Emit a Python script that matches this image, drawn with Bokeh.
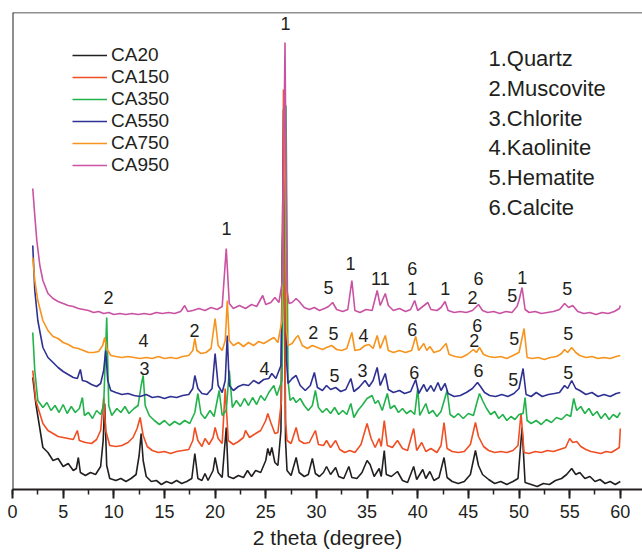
from bokeh.plotting import figure
from bokeh.models import Range1d, SingleIntervalTicker, Span, Legend, LegendItem
from bokeh.core.properties import value
from bokeh.embed import file_html
from bokeh.resources import INLINE

series_names = ["CA20", "CA150", "CA350", "CA550", "CA750", "CA950"]
series_colors = ["#231f20", "#f04e23", "#21b24b", "#2e3192", "#f7941d", "#c952a3"]

# (2theta, displayed intensity a.u., traces stacked as in the figure)
ca20 = [(2.0,112),(2.3,86),(3.0,42),(3.5,37),(4.0,29),(4.5,31),(5.0,23),(5.5,26),(6.0,19),(6.3,21),(6.5,32),(6.7,17),(7.2,14),(7.7,17),(8.2,15),(8.7,23),(8.95,49),(9.1,86),(9.3,24),(9.6,11),(10.2,9),(10.7,11),(11.2,8),(11.7,11),(12.2,15),(12.5,34),(12.7,56),(12.9,29),(13.2,13),(13.7,8),(14.2,9),(14.7,5),(15.2,8),(15.7,6),(16.2,9),(16.7,6),(17.2,8),(17.7,11),(18.0,36),(18.3,11),(18.7,9),(19.0,16),(19.3,9),(19.8,19),(20.0,32),(20.3,17),(20.7,12),(21.1,62),(21.3,13),(21.8,11),(22.3,14),(22.8,12),(23.2,19),(23.6,13),(24.0,19),(24.5,17),(25.0,29),(25.2,41),(25.4,34),(25.6,42),(25.9,27),(26.2,24),(26.5,59),(26.75,380),(26.95,49),(27.1,19),(27.5,14),(28.0,32),(28.3,17),(28.8,13),(29.2,15),(29.6,31),(29.9,16),(30.3,13),(30.7,17),(31.0,23),(31.4,15),(31.9,22),(32.2,13),(32.7,11),(33.2,23),(33.5,12),(34.0,11),(34.5,17),(35.0,29),(35.3,25),(35.7,13),(36.2,21),(36.4,13),(36.7,39),(36.9,15),(37.4,13),(38.0,18),(38.5,9),(39.0,7),(39.6,23),(39.9,10),(40.5,20),(40.8,11),(41.2,18),(41.6,9),(42.1,12),(42.6,32),(42.9,12),(43.4,8),(44.0,6),(44.6,8),(45.2,15),(45.7,39),(46.0,24),(46.4,15),(47.0,10),(47.6,6),(48.2,8),(48.8,5),(49.4,8),(49.9,11),(50.3,62),(50.6,7),(51.2,5),(51.8,3),(52.4,6),(53.0,5),(53.6,9),(54.2,11),(54.7,15),(55.2,21),(55.6,15),(56.0,17),(56.5,11),(57.0,13),(57.5,8),(58.0,10),(58.5,6),(59.0,8),(59.5,5),(60.0,8)]

ca150 = [(2.0,119),(2.3,89),(3.0,66),(3.5,59),(4.0,56),(4.5,53),(5.0,52),(5.5,51),(6.0,50),(6.4,59),(6.6,49),(7.2,47),(7.8,46),(8.3,50),(8.7,59),(9.0,92),(9.2,59),(9.6,44),(10.2,43),(10.8,44),(11.4,47),(11.9,52),(12.3,61),(12.6,72),(12.9,54),(13.3,43),(13.8,39),(14.4,37),(15.0,38),(15.6,36),(16.2,38),(16.8,39),(17.4,40),(17.8,49),(18.0,62),(18.3,49),(18.7,43),(19.0,51),(19.4,45),(19.8,52),(20.0,62),(20.3,51),(20.7,46),(21.0,101),(21.3,49),(21.8,45),(22.3,48),(22.8,52),(23.0,59),(23.4,52),(24.0,56),(24.5,59),(25.0,69),(25.2,76),(25.5,67),(25.9,56),(26.2,57),(26.55,89),(26.75,400),(26.95,69),(27.1,49),(27.5,46),(28.0,62),(28.3,49),(28.8,46),(29.3,47),(29.9,59),(30.2,45),(30.7,44),(31.0,49),(31.4,42),(31.9,49),(32.3,40),(32.8,37),(33.3,39),(33.8,37),(34.4,45),(35.0,66),(35.4,51),(35.8,42),(36.2,51),(36.4,43),(36.7,69),(37.0,44),(37.5,42),(38.0,49),(38.5,41),(39.0,39),(39.6,61),(39.9,39),(40.4,47),(40.8,38),(41.3,41),(41.9,37),(42.3,44),(42.6,67),(42.9,41),(43.4,38),(44.0,37),(44.6,38),(45.2,45),(45.7,67),(46.0,53),(46.5,43),(47.0,39),(47.6,37),(48.2,38),(48.8,37),(49.4,39),(49.9,44),(50.2,76),(50.5,37),(51.0,36),(51.6,38),(52.2,37),(52.8,39),(53.4,38),(54.0,40),(54.6,42),(55.0,51),(55.3,47),(55.7,48),(56.1,43),(56.6,40),(57.1,38),(57.6,37),(58.1,36),(58.6,38),(59.1,37),(59.6,40),(59.9,42),(60.0,61)]

ca350 = [(2.0,157),(2.2,119),(2.5,89),(3.0,82),(3.4,87),(3.8,79),(4.2,84),(4.6,77),(5.0,85),(5.4,76),(5.8,83),(6.2,77),(6.6,81),(6.9,92),(7.1,74),(7.5,77),(7.9,71),(8.3,79),(8.7,75),(9.0,84),(9.3,172),(9.5,84),(9.8,74),(10.3,81),(10.7,77),(11.1,83),(11.5,76),(12.0,81),(12.4,84),(12.7,104),(12.9,114),(13.1,84),(13.5,74),(14.0,69),(14.5,65),(15.0,69),(15.5,64),(16.0,68),(16.5,65),(17.0,69),(17.5,66),(18.0,77),(18.3,96),(18.6,76),(19.0,71),(19.5,79),(19.9,73),(20.4,99),(20.7,74),(21.1,79),(21.4,119),(21.7,82),(22.1,89),(22.5,83),(22.9,91),(23.3,84),(23.7,92),(24.1,85),(24.5,94),(24.9,89),(25.3,97),(25.8,104),(26.1,94),(26.6,109),(27.0,384),(27.2,109),(27.4,89),(27.7,92),(28.0,87),(28.4,91),(28.8,84),(29.2,79),(29.6,84),(29.9,99),(30.2,82),(30.6,77),(31.0,81),(31.4,76),(31.8,82),(32.2,75),(32.6,79),(33.0,75),(33.4,86),(33.7,72),(34.1,79),(34.5,84),(35.0,91),(35.5,94),(35.8,86),(36.1,89),(36.5,79),(37.0,96),(37.3,81),(37.7,84),(38.1,77),(38.5,81),(38.9,76),(39.3,79),(39.7,75),(40.0,101),(40.2,74),(40.8,86),(41.1,76),(41.5,79),(41.9,73),(42.3,78),(42.9,99),(43.2,75),(43.6,72),(44.0,76),(44.5,71),(45.0,76),(45.5,74),(45.9,89),(46.1,96),(46.4,89),(46.8,81),(47.2,75),(47.6,78),(48.0,71),(48.4,75),(48.8,69),(49.2,73),(49.6,70),(50.0,75),(50.4,76),(50.6,92),(50.8,69),(51.2,66),(51.7,69),(52.2,65),(52.7,70),(53.2,67),(53.7,72),(54.2,70),(54.7,75),(55.1,73),(55.4,91),(55.7,79),(56.1,83),(56.5,76),(56.9,81),(57.3,74),(57.7,78),(58.1,71),(58.5,76),(58.9,70),(59.3,75),(59.7,72),(60.0,77)]

ca550 = [(2.0,244),(2.2,199),(2.5,169),(3.0,142),(3.5,132),(4.0,127),(4.5,122),(5.0,118),(5.5,115),(6.0,112),(6.4,111),(6.7,120),(6.9,109),(7.3,108),(7.8,105),(8.3,103),(8.7,106),(9.0,119),(9.2,139),(9.4,109),(9.7,99),(10.2,97),(10.8,95),(11.4,96),(12.0,94),(12.6,93),(13.2,95),(13.8,92),(14.4,93),(15.0,91),(15.6,93),(16.2,92),(16.8,94),(17.4,95),(17.8,101),(18.0,114),(18.3,101),(18.7,96),(19.2,95),(19.7,101),(20.0,136),(20.3,104),(20.7,97),(21.0,109),(21.2,154),(21.4,104),(21.8,99),(22.3,103),(22.8,105),(23.3,104),(23.8,109),(24.3,106),(24.8,110),(25.3,111),(25.6,116),(26.0,111),(26.5,124),(26.85,385),(27.05,129),(27.2,106),(27.6,111),(28.0,114),(28.4,104),(28.9,99),(29.4,104),(29.8,117),(30.1,102),(30.6,99),(31.0,104),(31.4,100),(31.9,102),(32.4,98),(32.9,100),(33.4,111),(33.7,98),(34.2,102),(34.8,109),(35.2,103),(35.6,109),(36.0,122),(36.3,104),(36.8,116),(37.1,100),(37.6,97),(38.2,99),(38.7,96),(39.3,98),(39.8,110),(40.1,96),(40.6,105),(40.9,98),(41.3,104),(41.6,98),(42.0,107),(42.3,99),(42.7,106),(43.0,96),(43.6,93),(44.2,94),(44.8,97),(45.4,101),(45.9,107),(46.2,103),(46.6,97),(47.1,94),(47.7,93),(48.3,95),(48.9,93),(49.5,96),(50.0,101),(50.4,121),(50.7,95),(51.2,93),(51.7,97),(52.3,93),(52.9,95),(53.5,96),(54.0,97),(54.5,104),(54.8,101),(55.2,109),(55.6,101),(56.0,99),(56.6,95),(57.2,97),(57.8,93),(58.4,95),(59.0,93),(59.6,96),(60.0,97)]

ca750 = [(2.0,232),(2.2,209),(2.5,189),(3.0,169),(3.5,159),(4.0,153),(4.5,151),(5.0,147),(5.5,145),(6.0,142),(6.5,141),(7.0,139),(7.5,137),(8.0,137),(8.5,138),(8.9,144),(9.1,152),(9.3,141),(9.7,134),(10.2,133),(10.8,132),(11.4,133),(12.0,132),(12.6,131),(13.2,132),(13.8,131),(14.4,133),(15.0,131),(15.6,132),(16.2,131),(16.8,133),(17.4,134),(17.8,139),(18.0,151),(18.2,139),(18.6,136),(19.1,137),(19.6,141),(20.0,171),(20.3,144),(20.7,139),(21.0,149),(21.2,189),(21.4,149),(21.8,144),(22.3,147),(22.8,143),(23.3,147),(23.8,144),(24.3,148),(24.8,146),(25.3,149),(25.8,152),(26.2,147),(26.6,169),(26.85,395),(27.05,159),(27.2,144),(27.6,146),(28.0,152),(28.2,154),(28.6,144),(29.1,141),(29.6,144),(30.1,142),(30.6,140),(31.0,142),(31.5,144),(32.0,140),(32.5,139),(33.0,141),(33.5,157),(33.8,139),(34.3,140),(34.8,144),(35.2,145),(35.6,141),(36.0,154),(36.3,141),(36.8,154),(37.1,139),(37.6,137),(38.2,139),(38.8,137),(39.4,139),(39.8,153),(40.1,139),(40.6,146),(40.9,139),(41.2,143),(41.6,137),(42.2,139),(42.8,146),(43.1,135),(43.7,133),(44.3,132),(44.9,135),(45.5,140),(45.8,137),(46.1,142),(46.5,135),(47.0,133),(47.6,132),(48.2,133),(48.8,131),(49.4,134),(50.0,137),(50.5,161),(50.8,132),(51.3,131),(51.9,132),(52.5,130),(53.1,132),(53.7,133),(54.2,136),(54.5,140),(54.8,137),(55.2,142),(55.6,137),(56.0,134),(56.6,132),(57.2,133),(57.8,131),(58.4,132),(59.0,131),(59.6,133),(60.0,134)]

ca950 = [(2.0,301),(2.2,274),(2.4,249),(2.7,224),(3.0,209),(3.5,196),(4.0,191),(4.5,188),(5.0,186),(5.5,184),(6.0,183),(6.5,181),(7.0,180),(7.5,179),(8.0,177),(8.5,178),(9.0,176),(9.5,177),(10.0,175),(10.6,176),(11.2,175),(11.8,176),(12.4,175),(13.0,176),(13.6,175),(14.2,177),(14.8,176),(15.4,177),(16.0,176),(16.6,178),(17.0,184),(17.3,178),(17.8,179),(18.4,181),(19.0,179),(19.6,182),(20.2,180),(20.7,183),(21.1,241),(21.4,186),(21.8,181),(22.4,184),(23.0,181),(23.6,185),(24.1,183),(24.7,194),(25.0,185),(25.5,187),(25.9,192),(26.3,187),(26.65,209),(26.9,447),(27.1,199),(27.3,186),(27.6,187),(28.0,191),(28.3,188),(28.8,182),(29.3,180),(29.8,182),(30.3,179),(30.8,181),(31.2,183),(31.6,187),(32.0,180),(32.6,178),(33.1,180),(33.5,209),(33.8,179),(34.3,177),(34.9,180),(35.5,179),(36.0,199),(36.3,184),(36.8,196),(37.1,184),(37.6,179),(38.2,181),(38.8,178),(39.3,180),(39.7,189),(40.0,179),(40.5,183),(41.0,187),(41.3,180),(41.9,179),(42.3,182),(42.7,188),(43.0,179),(43.6,177),(44.2,178),(44.8,177),(45.4,179),(46.0,185),(46.4,179),(46.9,177),(47.5,178),(48.1,176),(48.7,178),(49.3,177),(49.8,183),(50.0,189),(50.3,202),(50.6,180),(51.0,177),(51.6,178),(52.2,176),(52.8,177),(53.4,178),(54.0,180),(54.5,186),(54.9,182),(55.3,184),(55.8,178),(56.4,176),(57.0,177),(57.6,175),(58.2,177),(58.8,176),(59.4,178),(59.9,181),(60.0,184)]

# phase labels above the peaks
peak_label_x = [26.94, 21.12, 9.47, 31.19, 33.36, 36.32, 39.47, 39.47, 42.73, 45.99, 45.40, 49.34, 50.33, 54.77,
                12.93, 17.96, 29.70, 31.68, 34.64, 39.47, 45.89, 45.59, 49.54, 54.87,
                13.03, 24.87, 31.78, 34.54, 39.67, 45.99, 49.44, 54.87]
peak_label_y = [466, 261, 192, 202, 226, 211, 221, 201, 201, 211, 192, 194, 212, 201,
                149, 159, 157, 156, 154, 160, 164, 149, 151, 156,
                121, 121, 114, 119, 117, 119, 110, 117]
peak_label_text = ["1", "1", "2", "5", "1", "11", "6", "1", "1", "6", "2", "5", "1", "5",
                   "4", "2", "2", "5", "4", "6", "6", "2", "5", "5",
                   "3", "4", "5", "3", "6", "6", "5", "5"]

minerals = ["1.Quartz", "2.Muscovite", "3.Chlorite", "4.Kaolinite", "5.Hematite", "6.Calcite"]

x_ticks_interval = 5
FONT = "Liberation Sans"
TXT = "#231f20"

p = figure(width=642, height=552, output_backend="svg", toolbar_location=None,
           x_range=Range1d(0, 62.19), y_range=Range1d(0, 477),
           min_border_left=12, min_border_right=0, min_border_top=12, min_border_bottom=63)
p.outline_line_color = None
p.grid.visible = False
p.yaxis.visible = False
p.background_fill_color = "white"
p.border_fill_color = "white"

xa = p.xaxis[0]
xa.ticker = SingleIntervalTicker(interval=x_ticks_interval, num_minor_ticks=2)
xa.axis_line_width = 2
xa.axis_line_color = "#231f20"
xa.major_tick_line_width = 2
xa.major_tick_line_color = "#231f20"
xa.minor_tick_line_width = 1.5
xa.minor_tick_line_color = "#231f20"
xa.major_tick_in = 0
xa.major_tick_out = 9
xa.minor_tick_in = 0
xa.minor_tick_out = 5
xa.major_label_text_font = FONT
xa.major_label_text_font_size = "18px"
xa.major_label_text_color = TXT
xa.major_label_standoff = 6
xa.axis_label = "2 theta (degree)"
xa.axis_label_text_font = FONT
xa.axis_label_text_font_size = "21px"
xa.axis_label_text_font_style = "normal"
xa.axis_label_text_color = TXT
xa.axis_label_standoff = 5

p.add_layout(Span(location=0, dimension="height", line_color="#231f20", line_width=2))
p.add_layout(Span(location=477, dimension="width", line_color="#231f20", line_width=1.5))

all_series = [ca20, ca150, ca350, ca550, ca750, ca950]
items = []
for name, color, data in zip(series_names, series_colors, all_series):
    xs = [d[0] for d in data]
    ys = [d[1] for d in data]
    r = p.line(xs, ys, line_color=color, line_width=1.6)
    items.append(LegendItem(label=name, renderers=[r]))

legend = Legend(items=items, location=(60, 313), orientation="vertical",
                label_text_font=FONT, label_text_font_size="19px", label_text_color=TXT,
                glyph_width=35, glyph_height=20, label_height=20, label_standoff=4,
                spacing=0, padding=0, margin=0, border_line_color=None,
                background_fill_alpha=0)
p.add_layout(legend)

p.text(x=peak_label_x, y=peak_label_y, text=peak_label_text,
       text_font=value(FONT), text_font_size=value("18px"), text_color=TXT,
       text_align="center", text_baseline="middle")

mx = [46.98] * len(minerals)
my = [431 - 29.8 * i for i in range(len(minerals))]
p.text(x=mx, y=my, text=minerals, text_font=value(FONT), text_font_size=value("22px"),
       text_color=TXT, text_align="left", text_baseline="middle")

open("out.html", "w").write(file_html(p, INLINE))
